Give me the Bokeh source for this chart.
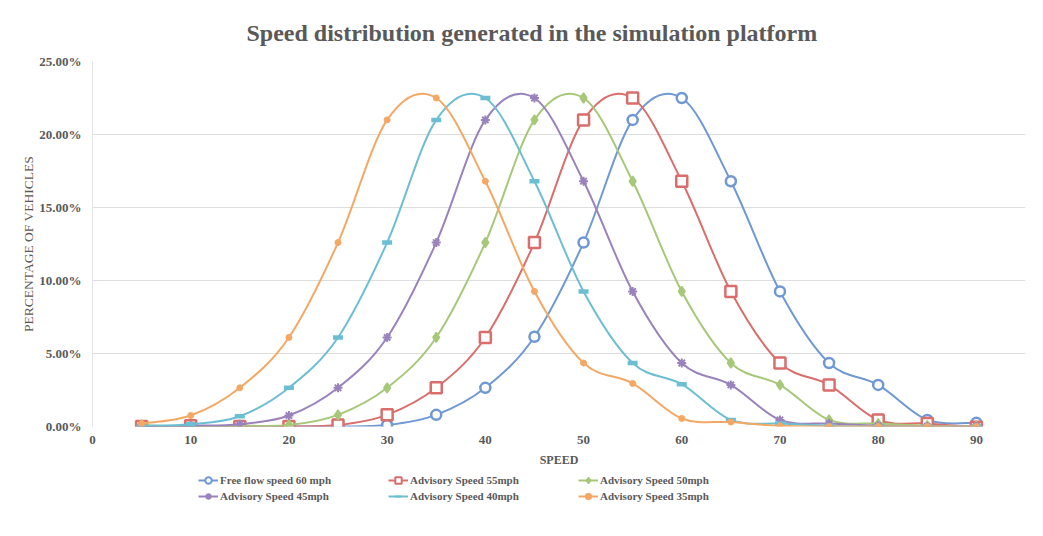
import numpy as np
from bokeh.plotting import figure
from bokeh.layouts import column
from bokeh.models import (Range1d, FixedTicker, PrintfTickFormatter, Legend, LegendItem,
                          ColumnDataSource)
from bokeh.embed import file_html
from bokeh.resources import INLINE

# ---------------- data ----------------
speed = [5, 10, 15, 20, 25, 30, 35, 40, 45, 50, 55, 60, 65, 70, 75, 80, 85, 90]

free_flow_60 = [0.0, 0.0, 0.0, 0.0, 0.0, 0.1, 0.8, 2.65, 6.15, 12.6, 21.0, 22.5, 16.8, 9.25, 4.35, 2.85, 0.45, 0.25]
advisory_55 = [0.0, 0.05, 0.0, 0.0, 0.1, 0.8, 2.65, 6.1, 12.6, 21.0, 22.5, 16.8, 9.25, 4.35, 2.85, 0.45, 0.2, -0.05]
advisory_50 = [0.1, 0.0, 0.05, 0.1, 0.8, 2.65, 6.1, 12.6, 21.0, 22.5, 16.8, 9.25, 4.35, 2.85, 0.45, 0.2, 0.05, 0.0]
advisory_45 = [0.0, 0.05, 0.15, 0.75, 2.65, 6.1, 12.6, 21.0, 22.5, 16.8, 9.25, 4.35, 2.85, 0.45, 0.2, 0.05, 0.0, 0.0]
advisory_40 = [0.05, 0.15, 0.7, 2.65, 6.1, 12.6, 21.0, 22.5, 16.8, 9.25, 4.35, 2.9, 0.45, 0.2, 0.05, 0.0, 0.0, 0.0]
advisory_35 = [0.2, 0.75, 2.65, 6.1, 12.6, 21.0, 22.5, 16.8, 9.25, 4.35, 2.95, 0.55, 0.3, 0.05, 0.0, 0.0, 0.0, 0.0]

series_names = ["Free flow speed 60 mph", "Advisory Speed 55mph", "Advisory Speed 50mph",
                "Advisory Speed 45mph", "Advisory Speed 40mph", "Advisory Speed 35mph"]
series_values = [free_flow_60, advisory_55, advisory_50, advisory_45, advisory_40, advisory_35]

x_ticks = [0, 10, 20, 30, 40, 50, 60, 70, 80, 90]
y_ticks = [0, 5, 10, 15, 20, 25]

# ---------------- styles ----------------
colors = ["#6f98d4", "#d96e6c", "#a6c878", "#9a83bd", "#6cbfd3", "#f5a864"]
markers = ["circle", "square", "diamond", "asterisk", "dash", "circle"]
msizes = [10, 11, 10, 9, 10, 6]
mfill = ["white", "white", None, None, None, None]
mwidth = [2.5, 2.5, 1.5, 2.0, 4.5, 1.0]

SERIF = "Liberation Serif"
GREY = "#595959"

p = figure(width=1043, height=470, output_backend="svg", toolbar_location=None,
           x_range=Range1d(0, 95), y_range=Range1d(0, 25),
           min_border_left=92, min_border_right=18, min_border_top=61, min_border_bottom=44)

p.title.text = "Speed distribution generated in the simulation platform"
p.title.text_font = SERIF
p.title.text_font_size = "24px"
p.title.text_font_style = "bold"
p.title.text_color = GREY
p.title.align = "left"
p.title.offset = 154
p.title.standoff = 32

p.outline_line_color = None
p.background_fill_color = "white"
p.border_fill_color = "white"

# axes
p.xaxis.ticker = FixedTicker(ticks=x_ticks)
p.yaxis.ticker = FixedTicker(ticks=y_ticks)
p.yaxis.formatter = PrintfTickFormatter(format="%.2f%%")
for ax in (p.xaxis[0], p.yaxis[0]):
    ax.major_tick_line_color = None
    ax.minor_tick_line_color = None
    ax.major_tick_out = 0
    ax.major_tick_in = 0
    ax.minor_tick_out = 0
    ax.minor_tick_in = 0
    ax.major_label_text_font = SERIF
    ax.major_label_text_font_style = "bold"
    ax.major_label_text_font_size = "13px"
    ax.major_label_text_color = GREY
    ax.axis_label_text_font = SERIF
    ax.axis_label_text_color = GREY
p.xaxis.axis_line_color = None
p.yaxis.axis_line_color = "#e4e4e4"
p.xaxis.major_label_standoff = 9
p.yaxis.major_label_standoff = 11
p.xaxis.axis_label = "SPEED"
p.xaxis.axis_label_text_font_style = "bold"
p.xaxis.axis_label_text_font_size = "12px"
p.xaxis.axis_label_standoff = 6
p.yaxis.axis_label = "PERCENTAGE OF VEHICLES"
p.yaxis.axis_label_text_font_style = "normal"
p.yaxis.axis_label_text_font_size = "13.5px"
p.yaxis.axis_label_standoff = 0

p.xgrid.grid_line_color = None
p.ygrid.grid_line_color = "#dedede"
p.ygrid.grid_line_width = 1


def smooth_segments(xs, ys):
    """Catmull-Rom style bezier control points (Excel-like smoothed line)."""
    x = np.asarray(xs, dtype=float)
    y = np.asarray(ys, dtype=float)
    n = len(x)
    xp = np.concatenate([[x[0]], x, [x[-1]]])
    yp = np.concatenate([[y[0]], y, [y[-1]]])
    i = np.arange(n - 1) + 1
    return dict(
        x0=x[:-1], y0=y[:-1], x1=x[1:], y1=y[1:],
        cx0=xp[i] + (xp[i + 1] - xp[i - 1]) / 6.0,
        cy0=yp[i] + (yp[i + 1] - yp[i - 1]) / 6.0,
        cx1=xp[i + 1] - (xp[i + 2] - xp[i]) / 6.0,
        cy1=yp[i + 1] - (yp[i + 2] - yp[i]) / 6.0,
    )


for vals, c, m, s, f, w in zip(series_values, colors, markers, msizes, mfill, mwidth):
    seg = ColumnDataSource(smooth_segments(speed, vals))
    p.bezier(x0="x0", y0="y0", x1="x1", y1="y1", cx0="cx0", cy0="cy0",
             cx1="cx1", cy1="cy1", source=seg, line_color=c, line_width=2)
    p.scatter(speed, vals, marker=m, size=s, line_color=c, line_width=w,
              fill_color=(f if f else c))

# ---------------- legend strip below the chart ----------------
pl = figure(width=1043, height=66, output_backend="svg", toolbar_location=None,
            x_range=Range1d(0, 1), y_range=Range1d(0, 1),
            x_axis_location=None, y_axis_location=None,
            min_border_left=0, min_border_right=0, min_border_top=0, min_border_bottom=0)
pl.grid.visible = False
pl.outline_line_color = None
pl.border_fill_color = "white"

nan = float("nan")
items = []
for name, c, m, s, f, w in zip(series_names, colors, markers, msizes, mfill, mwidth):
    r_line = pl.line(x=[nan, nan], y=[nan, nan], line_color=c, line_width=2)
    r_pts = pl.scatter(x=[nan], y=[nan], marker=m, size=s, line_color=c,
                       line_width=min(w, 2.0), fill_color=(f if f else c))
    items.append(LegendItem(label=name, renderers=[r_line, r_pts]))

leg = Legend(items=items, location=(106, 32), orientation="horizontal", ncols=3,
             padding=0, margin=0, spacing=0,
             glyph_width=20, glyph_height=16, label_standoff=2, label_width=168, label_height=16,
             label_text_font=SERIF, label_text_font_style="bold",
             label_text_font_size="11px", label_text_color=GREY,
             border_line_alpha=0, background_fill_alpha=0)
pl.add_layout(leg, "center")

layout = column(p, pl, spacing=0)
open("out.html", "w").write(file_html(layout, INLINE))
